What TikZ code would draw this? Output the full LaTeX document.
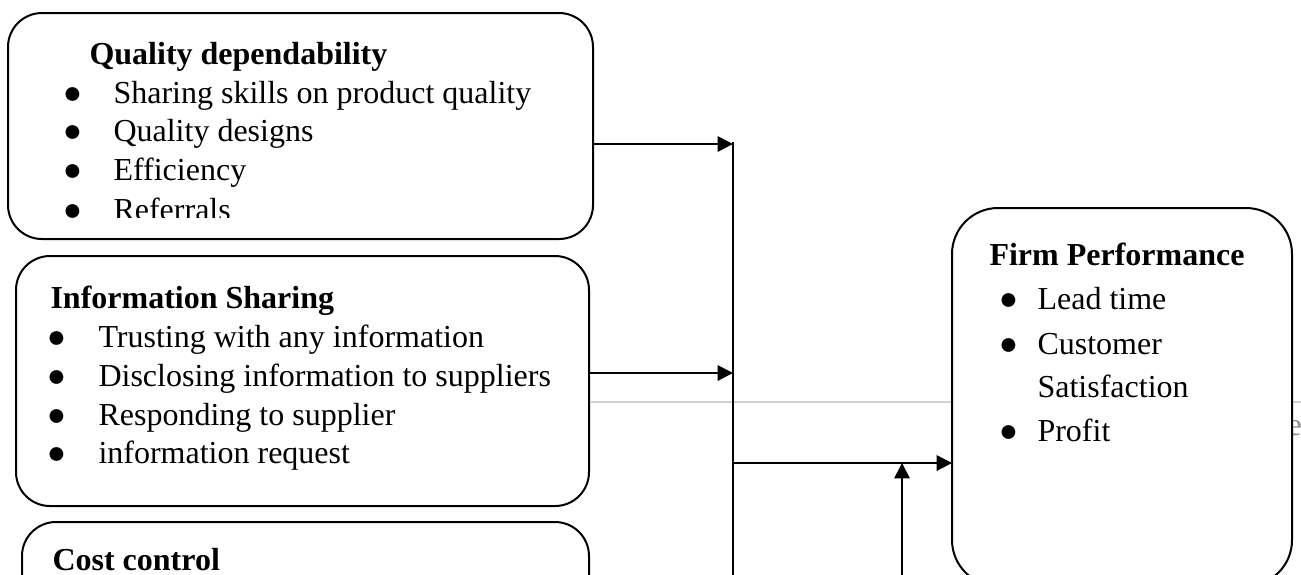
\documentclass[tikz,border=0pt]{standalone}
\usepackage{fontspec}
\setmainfont{Liberation Serif}
\usetikzlibrary{arrows.meta}
\newcommand{\myitem}[2]{\makebox[7.5pt][c]{●}\hspace{#1}#2}
\begin{document}
\begin{tikzpicture}[x=0.375pt,y=-0.375pt,
  box/.style={draw, line width=0.75pt, rounded corners=12.75pt, inner sep=0pt, outer sep=0pt, fill=white},
  txt/.style={anchor=base west, inner sep=0pt, font=\fontsize{12pt}{14pt}\selectfont},
  ttl/.style={anchor=base west, inner sep=0pt, font=\fontsize{12pt}{14pt}\selectfont\bfseries},
  conn/.style={line width=0.75pt},
  arr/.style={conn, -{Triangle[length=5.8pt,width=5.8pt]}},
  ghost/.style={draw=black!18, line width=0.55pt}]
\useasboundingbox (0,0) rectangle (1301,574);
\fill[white] (0,0) rectangle (1301,574);

% faint page artefacts
\draw[ghost] (591,402) -- (1301,402);
\node[anchor=base west, inner sep=0pt, text=black!45, font=\fontsize{12pt}{14pt}\selectfont] (ghoste) at (1287,435) {e};

% boxes
\node[box, minimum width=219.375pt, minimum height=84.75pt] (qd) at (300.5,126) {};
\node[box, minimum width=214.875pt, minimum height=93.75pt] (is) at (302.5,381) {};
\node[box, minimum width=212.625pt, minimum height=93.75pt] (cc) at (305.5,647) {};
\node[box, rounded corners=17.25pt, minimum width=127.5pt, minimum height=141.75pt] (fp) at (1122,397) {};

% Quality dependability
\node[ttl] (qdt) at (89,64) {Quality dependability};
\node[txt] (qd1) at (62,103) {\myitem{11.625pt}{Sharing skills on product quality}};
\node[txt] (qd2) at (62,141.5) {\myitem{11.625pt}{Quality designs}};
\node[txt] (qd3) at (62,180) {\myitem{11.625pt}{Efficiency}};
\begin{scope}
  \clip (0,0) rectangle (1301,217.5);
  \node[txt] (qd4) at (62,220.5) {\myitem{11.625pt}{Referrals}};
\end{scope}

% Information Sharing
\node[ttl] (ist) at (50,308) {Information Sharing};
\node[txt] (is1) at (46,347) {\myitem{12pt}{Trusting with any information}};
\node[txt] (is2) at (46,386) {\myitem{12pt}{Disclosing information to suppliers}};
\node[txt] (is3) at (46,425) {\myitem{12pt}{Responding to supplier}};
\node[txt] (is4) at (46,463) {\myitem{12pt}{information request}};

% Cost control
\node[ttl] (cct) at (52,570) {Cost control};

% Firm Performance
\node[ttl] (fpt) at (989,265) {Firm Performance};
\node[txt] (fp1) at (998,309) {\myitem{7.125pt}{Lead time}};
\node[txt] (fp2) at (998,354) {\myitem{7.125pt}{Customer}};
\node[txt] (fp2b) at (1037,397) {Satisfaction};
\node[txt] (fp3) at (998,441) {\myitem{7.125pt}{Profit}};

% connectors
\coordinate (vtop) at (733,142);
\coordinate (vbot) at (733,590);
\coordinate (j1) at (733,144);
\coordinate (j2) at (733,373);
\coordinate (j3) at (733,463);
\coordinate (ubot) at (902,590);
\draw[conn] (vtop) -- (vbot);
\draw[arr] (qd.east |- j1) -- (j1);
\draw[arr] (is.east |- j2) -- (j2);
\draw[arr] (j3) -- (j3 -| fp.west);
\draw[arr] (ubot) -- (ubot |- j3);
\end{tikzpicture}
\end{document}
